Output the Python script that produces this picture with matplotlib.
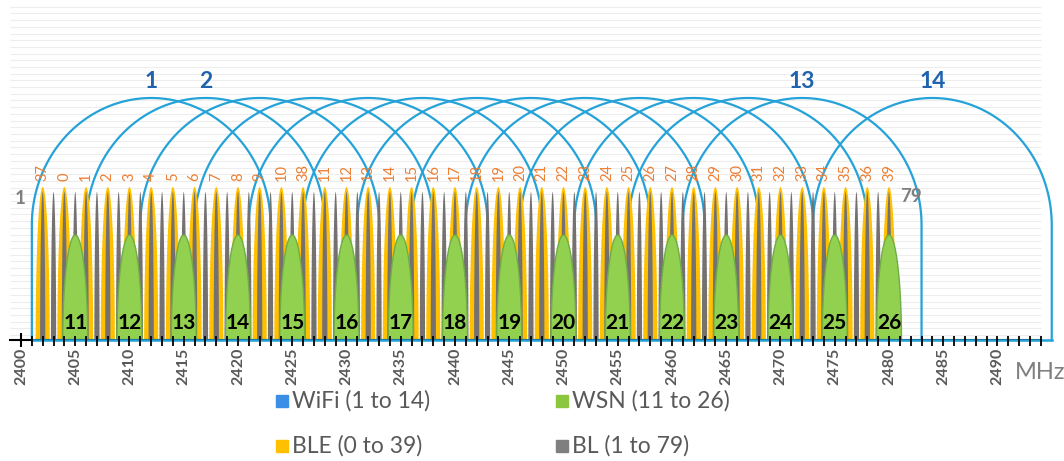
import numpy as np
import matplotlib.pyplot as plt

plt.rcParams['font.family'] = ['Lato', 'DejaVu Sans']

# ---- data (MHz) ----
wifi_channels = [1, 2, 3, 4, 5, 6, 7, 8, 9, 10, 11, 12, 13, 14]
wifi_centers = [2412, 2417, 2422, 2427, 2432, 2437, 2442, 2447, 2452, 2457, 2462, 2467, 2472, 2484]
wifi_labeled = [1, 2, 13, 14]

wsn_channels = [11, 12, 13, 14, 15, 16, 17, 18, 19, 20, 21, 22, 23, 24, 25, 26]
wsn_centers = [2405, 2410, 2415, 2420, 2425, 2430, 2435, 2440, 2445, 2450, 2455, 2460, 2465, 2470, 2475, 2480]

ble_channels = [37, 0, 1, 2, 3, 4, 5, 6, 7, 8, 9, 10, 38, 11, 12, 13, 14, 15, 16, 17,
                18, 19, 20, 21, 22, 23, 24, 25, 26, 27, 28, 29, 30, 31, 32, 33, 34, 35, 36, 39]
ble_centers = [2402, 2404, 2406, 2408, 2410, 2412, 2414, 2416, 2418, 2420, 2422, 2424, 2426, 2428,
               2430, 2432, 2434, 2436, 2438, 2440, 2442, 2444, 2446, 2448, 2450, 2452, 2454, 2456,
               2458, 2460, 2462, 2464, 2466, 2468, 2470, 2472, 2474, 2476, 2478, 2480]

bl_centers = [2402, 2403, 2404, 2405, 2406, 2407, 2408, 2409, 2410, 2411, 2412, 2413, 2414, 2415,
              2416, 2417, 2418, 2419, 2420, 2421, 2422, 2423, 2424, 2425, 2426, 2427, 2428, 2429,
              2430, 2431, 2432, 2433, 2434, 2435, 2436, 2437, 2438, 2439, 2440, 2441, 2442, 2443,
              2444, 2445, 2446, 2447, 2448, 2449, 2450, 2451, 2452, 2453, 2454, 2455, 2456, 2457,
              2458, 2459, 2460, 2461, 2462, 2463, 2464, 2465, 2466, 2467, 2468, 2469, 2470, 2471,
              2472, 2473, 2474, 2475, 2476, 2477, 2478, 2479, 2480]

tick_labels = [2400, 2405, 2410, 2415, 2420, 2425, 2430, 2435, 2440, 2445,
               2450, 2455, 2460, 2465, 2470, 2475, 2480, 2485, 2490]

# relative heights of the masks (arbitrary units)
wifi_height = 242
ble_height = 153
bl_height = 148
wsn_height = 105

legend_labels = ['WiFi (1 to 14)', 'WSN (11 to 26)', 'BLE (0 to 39)', 'BL (1 to 79)']
legend_colors = ['#3a8ee6', '#8cc63f', '#ffc000', '#7f7f7f']

# ---- styles ----
WIFI_C = '#25a2d8'
WIFI_TXT = '#1f63ae'
BLE_C = '#ffc000'
BLE_TXT = '#ed7d31'
BL_C = '#767171'
WSN_C = '#92d050'
WSN_EDGE = '#70ad47'
TXT_GRAY = '#7f7f7f'


def half_ellipse(c, w, h, n=60):
    t = np.linspace(0, np.pi, n)
    return c + w * np.cos(t), h * np.sin(t)


fig = plt.figure(figsize=(10.64, 4.61), dpi=100)
ax = fig.add_axes([0, 0, 1, 1])
ax.axis('off')
ax.set_xlim(2398.065, 2496.13)
ax.set_ylim(-121, 340)

# faint background lines
ax.hlines(np.arange(5, 336, 6.7), 2399, 2494, color='#ededed', lw=0.8, zorder=0)

# WiFi channels: 22 MHz wide arches
top_b = 127
yc = wifi_height - top_b
for c in wifi_centers:
    t = np.linspace(np.pi, 0, 120)
    xs = np.concatenate([[c - 11], c + 11 * np.cos(t), [c + 11]])
    ys = np.concatenate([[0], yc + top_b * np.sin(t), [0]])
    ax.plot(xs, ys, color=WIFI_C, lw=1.6, zorder=1)
for ch in wifi_labeled:
    c = wifi_centers[wifi_channels.index(ch)]
    ax.text(c, wifi_height + 6, str(ch), color=WIFI_TXT, fontsize=16.5, fontweight='bold',
            ha='center', va='bottom', zorder=6)

# BLE (yellow)
for c in ble_centers:
    xs, ys = half_ellipse(c, 0.65, ble_height)
    ax.fill(xs, ys, color=BLE_C, lw=0, zorder=2)
for c, ch in zip(ble_centers, ble_channels):
    ax.text(c, ble_height + 6, str(ch), color=BLE_TXT, fontsize=10.5, rotation=90,
            ha='center', va='bottom', zorder=6)

# Bluetooth classic (gray)
for c in bl_centers:
    xs, ys = half_ellipse(c, 0.24, bl_height)
    ax.fill(xs, ys, color=BL_C, lw=0, zorder=3)
ax.text(2399.9, bl_height - 6, '1', color=TXT_GRAY, fontsize=13.5, fontweight='bold',
        ha='center', va='center', zorder=6)
ax.text(bl_centers[-1] + 1.0, bl_height - 5, '79', color=TXT_GRAY, fontsize=13.5,
        fontweight='bold', ha='left', va='center', zorder=6)

# WSN (green)
for c, ch in zip(wsn_centers, wsn_channels):
    xs, ys = half_ellipse(c, 1.15, wsn_height)
    ax.fill(xs, ys, facecolor=WSN_C, edgecolor=WSN_EDGE, lw=1, zorder=4)
    ax.text(c, 17, str(ch), color='black', fontsize=15, fontweight='bold',
            ha='center', va='center', zorder=6)

# frequency axis
ax.plot([2399, 2494], [0, 0], color='black', lw=1.5, zorder=5)
ax.plot([2401, 2495], [0, 0], color=WIFI_C, lw=1.8, zorder=5)
ax.vlines(np.arange(2400, 2495), -6, 4, color='black', lw=1.3, zorder=6)
ax.vlines([2400], -7, 7, color='black', lw=1.5, zorder=6)
for f in tick_labels:
    ax.text(f, -8, str(f), rotation=90, ha='center', va='top', fontsize=11.5,
            fontweight='bold', color='#595959')
ax.text(2493.9, -32, 'MHz', ha='center', va='center', fontsize=17, color=TXT_GRAY)

# legend
leg_x = [2424.06, 2449.9, 2424.06, 2449.9]
leg_y = [-61, -61, -106, -106]
for x, y, lab, col in zip(leg_x, leg_y, legend_labels, legend_colors):
    ax.plot(x, y, marker='s', ms=9, color=col, ls='none')
    ax.text(x + 0.9, y, lab, ha='left', va='center', fontsize=16.5, color='#595959')

fig.savefig('out.png', dpi=100)
